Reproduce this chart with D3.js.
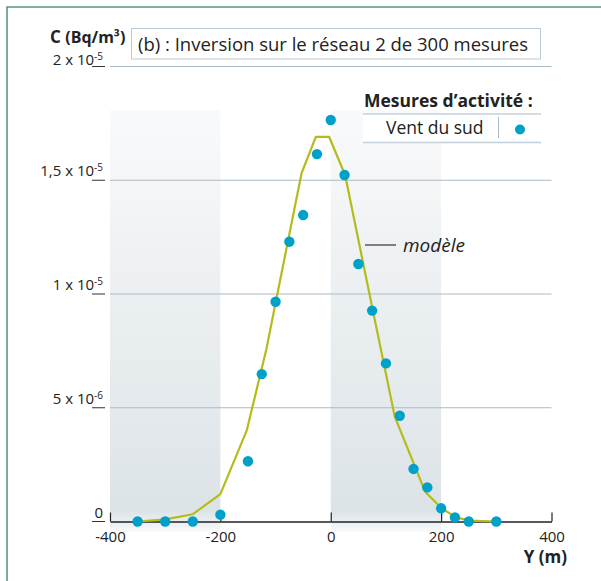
<!DOCTYPE html>
<html>
<head>
<meta charset="utf-8">
<script src="https://cdn.jsdelivr.net/npm/d3@7/dist/d3.min.js"></script>
<style>
  html, body { margin: 0; padding: 0; background: #fff; }
  svg { display: block; font-family: "Open Sans", "Noto Sans", sans-serif; }
</style>
</head>
<body>
<svg id="chart" width="601" height="581"></svg>
<script>
// Measured concentrations (Bq/m³, ×10⁻⁶) along the transect Y (m), south wind
const measureY = [-350, -300, -250, -200, -150, -125, -100, -75, -50, -25, 0, 25, 50, 75, 100, 125, 150, 175, 200, 225, 250, 300];
const measureC = [0, 0, 0, 0.3, 2.65, 6.48, 9.66, 12.3, 13.47, 16.15, 17.65, 15.23, 11.32, 9.27, 6.95, 4.65, 2.31, 1.5, 0.58, 0.18, 0, 0];

// Model curve (same units)
const modelY = [-350, -300, -250, -200, -152, -117, -53, -27, -3, 26, 75, 116, 171, 201, 227, 252, 300];
const modelC = [0, 0.09, 0.32, 1.2, 4.02, 7.54, 15.3, 16.91, 16.91, 15.23, 9.43, 4.61, 1.31, 0.58, 0.18, 0.04, 0];

// Axis ticks
const xTicks = [-400, -200, 0, 200, 400];
const yTicks = [0, 5e-6, 1e-5, 1.5e-5, 2e-5];
const yTickMantissa = ["0", "5 x 10", "1 x 10", "1,5 x 10", "2 x 10"];
const yTickExponent = ["", "-6", "-5", "-5", "-5"];

// Shaded ranges of Y
const bands = [[-400, -200], [0, 200]];

const titleText = "(b) : Inversion sur le réseau 2 de 300 mesures";
const legendTitle = "Mesures d\u2019activité :";
const legendLabel = "Vent du sud";
const modelLabel = "modèle";

const dotColor = "#00a1c9";
const lineColor = "#b4bc1a";
const gridColor = "#a9bbc7";
const frameColor = "#5b948c";

const svg = d3.select("#chart");

const x = d3.scaleLinear().domain([-400, 400]).range([110, 551.5]);
const y = d3.scaleLinear().domain([0, 2e-5]).range([521.5, 66.5]);

// Frame (left and top rules)
svg.append("path")
  .attr("d", "M7,581 V7 H601")
  .attr("fill", "none")
  .attr("stroke", frameColor)
  .attr("stroke-width", 1.6);

// Band gradient
const defs = svg.append("defs");
const grad = defs.append("linearGradient")
  .attr("id", "bandGrad").attr("x1", 0).attr("y1", 0).attr("x2", 0).attr("y2", 1);
grad.append("stop").attr("offset", "0").attr("stop-color", "#f9fafb");
grad.append("stop").attr("offset", "0.95").attr("stop-color", "#dce3e7");
grad.append("stop").attr("offset", "1").attr("stop-color", "#dce3e7").attr("stop-opacity", 0.2);

svg.append("g").selectAll("rect")
  .data(bands)
  .join("rect")
  .attr("x", d => x(d[0]))
  .attr("width", d => x(d[1]) - x(d[0]))
  .attr("y", 110)
  .attr("height", 532 - 110)
  .attr("fill", "url(#bandGrad)");

// Horizontal gridlines
svg.append("g").selectAll("line")
  .data(yTicks.slice(1))
  .join("line")
  .attr("x1", x(-400)).attr("x2", x(400))
  .attr("y1", d => y(d)).attr("y2", d => y(d))
  .attr("stroke", gridColor)
  .attr("stroke-width", 1);

// Y tick marks and labels
const yAxisG = svg.append("g");
yAxisG.selectAll("line")
  .data(yTicks)
  .join("line")
  .attr("x1", 92).attr("x2", 105)
  .attr("y1", d => y(d)).attr("y2", d => y(d))
  .attr("stroke", "#333")
  .attr("stroke-width", 1);
const yLab = yAxisG.selectAll("text")
  .data(yTicks)
  .join("text")
  .attr("x", 103)
  .attr("y", (d, i) => y(d) - (i === yTicks.length - 1 ? 2 : 4))
  .attr("text-anchor", "end")
  .attr("font-size", 15)
  .attr("fill", "#222");
yLab.append("tspan").text((d, i) => yTickMantissa[i]);
yLab.append("tspan")
  .attr("font-size", 10)
  .attr("dy", -5)
  .text((d, i) => yTickExponent[i]);

// X axis
const xAxis = d3.axisBottom(x)
  .tickValues(xTicks)
  .tickSizeInner(-9)
  .tickSizeOuter(0)
  .tickPadding(10)
  .tickFormat(d3.format("d"));
const xg = svg.append("g")
  .attr("transform", `translate(0,${y(0)})`)
  .call(xAxis);
xg.select(".domain").attr("stroke", "#222").attr("stroke-width", 1.6);
xg.selectAll(".tick line").attr("stroke", "#222").attr("stroke-width", 1.2);
xg.selectAll(".tick text")
  .attr("font-family", "Open Sans, sans-serif")
  .attr("font-size", 15)
  .attr("fill", "#222")
  .text(d => d < 0 ? "-" + Math.abs(d) : d);

svg.append("text")
  .attr("x", 567).attr("y", 562.5)
  .attr("text-anchor", "end")
  .attr("font-size", 17)
  .attr("font-weight", "bold")
  .attr("fill", "#222")
  .text("Y (m)");

// Y axis title
const yTitle = svg.append("text")
  .attr("x", 50).attr("y", 42.5)
  .attr("font-size", 17)
  .attr("font-weight", "bold")
  .attr("fill", "#222");
yTitle.append("tspan").text("C ");
yTitle.append("tspan").attr("font-size", 16).text("(Bq/m\u00b3)");

// Title box
svg.append("rect")
  .attr("x", 131.5).attr("y", 28.5)
  .attr("width", 409).attr("height", 30.5)
  .attr("fill", "#fff")
  .attr("stroke", "#bccbd4")
  .attr("stroke-width", 1);
svg.append("text")
  .attr("x", 138).attr("y", 50.5)
  .attr("font-size", 18.5)
  .attr("fill", "#222")
  .text(titleText);

// Legend
svg.append("rect")
  .attr("x", 363).attr("y", 114)
  .attr("width", 178).attr("height", 28.5)
  .attr("fill", "#fff");
svg.append("g").selectAll("line")
  .data([114, 142.5])
  .join("line")
  .attr("x1", 363).attr("x2", 541)
  .attr("y1", d => d).attr("y2", d => d)
  .attr("stroke", "#c3d0d9")
  .attr("stroke-width", 1.3);
svg.append("line")
  .attr("x1", 498.5).attr("x2", 498.5)
  .attr("y1", 117).attr("y2", 138)
  .attr("stroke", "#a9bbc7").attr("stroke-width", 1);
svg.append("text")
  .attr("x", 364).attr("y", 106.5)
  .attr("font-size", 17.5)
  .attr("font-weight", "bold")
  .attr("fill", "#222")
  .text(legendTitle);
svg.append("text")
  .attr("x", 386).attr("y", 134)
  .attr("font-size", 17.5)
  .attr("fill", "#222")
  .text(legendLabel);
svg.append("circle")
  .attr("cx", 520).attr("cy", 129.5).attr("r", 5)
  .attr("fill", dotColor);

// Model curve
const modelData = modelY.map((v, i) => ({ yPos: v, c: modelC[i] * 1e-6 }));
svg.append("path")
  .datum(modelData)
  .attr("d", d3.line().x(d => x(d.yPos)).y(d => y(d.c)))
  .attr("fill", "none")
  .attr("stroke", lineColor)
  .attr("stroke-width", 2.2)
  .attr("stroke-linejoin", "round");

// Model label
svg.append("line")
  .attr("x1", 365).attr("x2", 396)
  .attr("y1", 245).attr("y2", 245)
  .attr("stroke", "#222").attr("stroke-width", 1.1);
svg.append("text")
  .attr("x", 403).attr("y", 252)
  .attr("font-size", 19)
  .attr("font-style", "italic")
  .attr("fill", "#222")
  .text(modelLabel);

// Measurement points
const measureData = measureY.map((v, i) => ({ yPos: v, c: measureC[i] * 1e-6 }));
svg.append("g").selectAll("circle")
  .data(measureData)
  .join("circle")
  .attr("cx", d => x(d.yPos))
  .attr("cy", d => y(d.c))
  .attr("r", 5.2)
  .attr("fill", dotColor);
</script>
</body>
</html>
